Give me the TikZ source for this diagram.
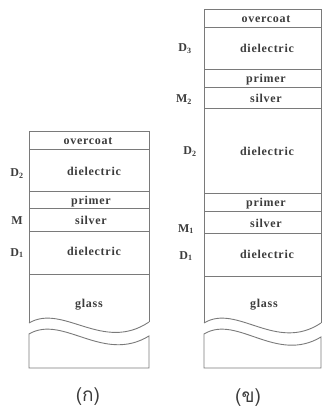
\documentclass[tikz,border=0pt]{standalone}
\usepackage{fontspec}
\setmainfont{Liberation Serif}
\newfontfamily\layerfont[LetterSpace=6]{Liberation Serif}
\newfontfamily\thaifont[Script=Thai]{Loma}
\definecolor{linegray}{HTML}{7A7A7A}
\definecolor{textgray}{HTML}{3C3C3C}
\begin{document}
\begin{tikzpicture}[x=1pt,y=-1pt,
  layerline/.style={draw=linegray, line width=0.9pt},
  laytext/.style={font=\layerfont\bfseries\fontsize{12}{12}\selectfont, text=textgray, anchor=base, inner sep=0pt},
  sidelabel/.style={font=\bfseries\fontsize{12}{12}\selectfont, text=textgray, anchor=base, inner sep=0pt},
  caption/.style={font=\thaifont\fontsize{19}{19}\selectfont, text=textgray, anchor=center, inner sep=0pt}]
\useasboundingbox (0,0) rectangle (322,411);

% ---------- left stack (a) ----------
\draw[layerline] (29,323) -- (29,131) -- (149,131) -- (149,322);
\foreach \yy in {149,191,208,231,274} \draw[layerline] (29,\yy) -- (149,\yy);
\draw[layerline] (29,323) .. controls (63,303) and (103,353) .. (149,322);
\draw[layerline] (29,334) .. controls (63,314) and (103,364) .. (149,336) -- (149,368) -- (29,368) -- cycle;

\node[laytext] (la1) at (88,145) {overcoat};
\node[laytext] (la2) at (94,176) {dielectric};
\node[laytext] (la3) at (91,204.5) {primer};
\node[laytext] (la4) at (91,224) {silver};
\node[laytext] (la5) at (94,255.5) {dielectric};
\node[laytext] (la6) at (89,307) {glass};

\node[sidelabel] (lD2) at (17,177) {D\textsubscript{2}};
\node[sidelabel] (lM) at (17,224) {M};
\node[sidelabel] (lD1) at (17,256) {D\textsubscript{1}};

\node[caption] (capa) at (88,397) {(ก)};

% ---------- right stack (b) ----------
\draw[layerline] (204,323) -- (204,9) -- (321,9) -- (321,323);
\foreach \yy in {27,69,87,108,193,211,233,276} \draw[layerline] (204,\yy) -- (321,\yy);
\draw[layerline] (204,323) .. controls (237,303) and (276,353) .. (321,323);
\draw[layerline] (204,334) .. controls (237,314) and (276,364) .. (321,337) -- (321,368) -- (204,368) -- cycle;

\node[laytext] (rb1) at (266,23) {overcoat};
\node[laytext] (rb2) at (267,53) {dielectric};
\node[laytext] (rb3) at (266,83) {primer};
\node[laytext] (rb4) at (266,102.5) {silver};
\node[laytext] (rb5) at (267,155.5) {dielectric};
\node[laytext] (rb6) at (266,207) {primer};
\node[laytext] (rb7) at (266,227) {silver};
\node[laytext] (rb8) at (267,258.5) {dielectric};
\node[laytext] (rb9) at (264,307) {glass};

\node[sidelabel] (rD3) at (185,52) {D\textsubscript{3}};
\node[sidelabel] (rM2) at (184,103) {M\textsubscript{2}};
\node[sidelabel] (rD2) at (190,155) {D\textsubscript{2}};
\node[sidelabel] (rM1) at (186,232) {M\textsubscript{1}};
\node[sidelabel] (rD1) at (186,259) {D\textsubscript{1}};

\node[caption] (capb) at (248,398) {(ข)};
\end{tikzpicture}
\end{document}
